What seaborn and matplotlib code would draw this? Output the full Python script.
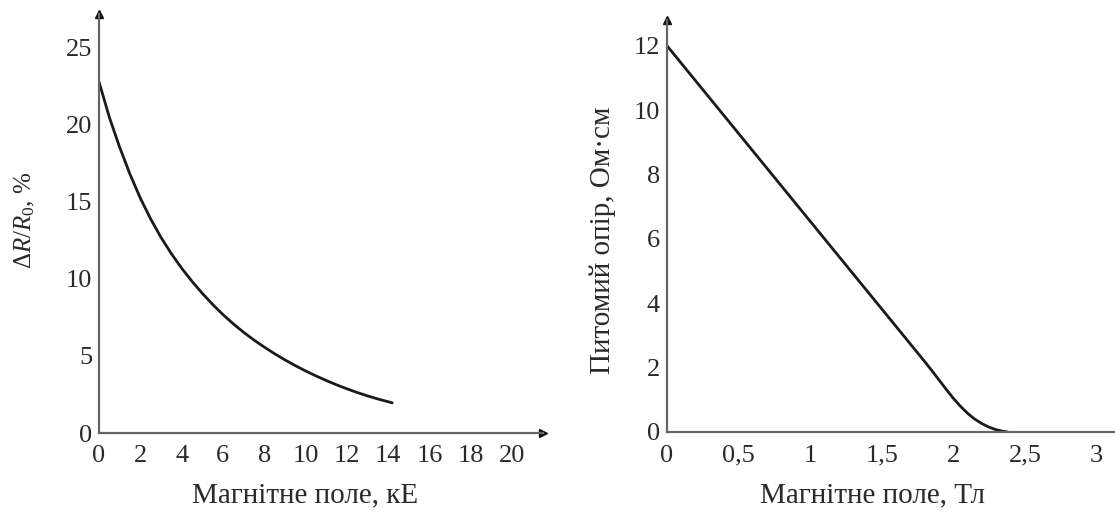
import numpy as np
import pandas as pd
import matplotlib
matplotlib.use("Agg")
import matplotlib.pyplot as plt
import seaborn as sns

# ---- data ----
field_ke = [0, 0.5, 1, 1.5, 2, 2.5, 3, 3.5, 4, 4.5, 5, 5.5, 6, 6.5, 7, 7.5, 8,
            8.5, 9, 9.5, 10, 10.5, 11, 11.5, 12, 12.5, 13, 13.5, 14.2]
dr_r0 = [22.8, 20.5, 18.55, 16.8, 15.25, 13.9, 12.7, 11.65, 10.7, 9.85, 9.07,
         8.35, 7.69, 7.09, 6.54, 6.04, 5.58, 5.15, 4.75, 4.38, 4.03, 3.71, 3.41,
         3.13, 2.87, 2.63, 2.41, 2.21, 1.96]

field_t = [0, 1.0, 1.8, 1.85, 1.9, 1.95, 2.0, 2.05, 2.1, 2.15, 2.2, 2.25, 2.3,
           2.35, 2.38]
resistivity = [12.0, 6.55, 2.19, 1.91, 1.62, 1.33, 1.05, 0.8, 0.58, 0.4, 0.26,
               0.15, 0.07, 0.02, 0.0]

left_xticks = [0, 2, 4, 6, 8, 10, 12, 14, 16, 18, 20]
left_yticks = [0, 5, 10, 15, 20, 25]
right_xticks = [0, 0.5, 1, 1.5, 2, 2.5, 3]
right_xticklabels = ["0", "0,5", "1", "1,5", "2", "2,5", "3"]
right_yticks = [0, 2, 4, 6, 8, 10, 12]

left_xlabel = "Магнітне поле, кЕ"
left_ylabel = r"$\Delta R/R_0$, %"
right_xlabel = "Магнітне поле, Тл"
right_ylabel = "Питомий опір, Ом·см"

sns.set_theme(style="white")
plt.rcParams["font.family"] = ["Liberation Serif", "DejaVu Serif"]
plt.rcParams["mathtext.fontset"] = "custom"
plt.rcParams["mathtext.rm"] = "Liberation Serif"
plt.rcParams["mathtext.it"] = "Liberation Serif:italic"

FS_TICK = 19
FS_LAB = 21
axis_col = "#666666"
line_col = "#1a1a1a"
text_col = "#2a2a2a"

fig = plt.figure(figsize=(11.15, 5.19), dpi=100)
ax1 = fig.add_axes([99 / 1115, 86 / 519, 444 / 1115, 419 / 519])
ax2 = fig.add_axes([667 / 1115, 87 / 519, 448 / 1115, 412 / 519])

df1 = pd.DataFrame({"x": field_ke, "y": dr_r0})
df2 = pd.DataFrame({"x": field_t, "y": resistivity})
sns.lineplot(data=df1, x="x", y="y", ax=ax1, color=line_col, linewidth=2.0)
sns.lineplot(data=df2, x="x", y="y", ax=ax2, color=line_col, linewidth=2.0)

ax1.set_xlim(0, 21.5)
ax1.set_ylim(0, 27.2)
ax2.set_xlim(0, 3.13)
ax2.set_ylim(0, 12.8)

ax1.set_xticks(left_xticks)
ax1.set_yticks(left_yticks)
ax2.set_xticks(right_xticks, right_xticklabels)
ax2.set_yticks(right_yticks)

for ax, arrow_x in ((ax1, True), (ax2, False)):
    for s in ("top", "right"):
        ax.spines[s].set_visible(False)
    for s in ("left", "bottom"):
        ax.spines[s].set_color(axis_col)
        ax.spines[s].set_linewidth(1.6)
    ax.tick_params(axis="both", direction="in", length=5, width=1.3,
                   color=axis_col, labelsize=FS_TICK, labelcolor=text_col)
    ax.tick_params(axis="x", pad=9)
    ax.tick_params(axis="y", pad=5)
    ax.plot(0, 1, marker="^", color="#111111", markersize=6,
            transform=ax.transAxes, clip_on=False)
    if arrow_x:
        ax.plot(1, 0, marker=">", color="#111111", markersize=6,
                transform=ax.transAxes, clip_on=False)
    ax.set_facecolor("white")

ax1.set_xlabel(left_xlabel, fontsize=FS_LAB, color=text_col)
ax1.set_ylabel(left_ylabel, fontsize=18, color=text_col)
ax2.set_xlabel(right_xlabel, fontsize=FS_LAB, color=text_col)
ax2.set_ylabel(right_ylabel, fontsize=FS_LAB, color=text_col)

# label positions in figure pixels -> axes coords
def place(ax, xl_px, yl_px):
    inv = ax.transAxes.inverted()
    fx = inv.transform((xl_px[0], 519 - xl_px[1]))
    fy = inv.transform((yl_px[0], 519 - yl_px[1]))
    ax.xaxis.set_label_coords(fx[0], fx[1])
    ax.yaxis.set_label_coords(fy[0], fy[1])
    ax.xaxis.label.set_va("center")
    ax.yaxis.label.set_va("center")

place(ax1, (305, 495), (25, 220))
place(ax2, (872, 495), (603, 240))

fig.savefig("out.png", dpi=100, facecolor="white")
